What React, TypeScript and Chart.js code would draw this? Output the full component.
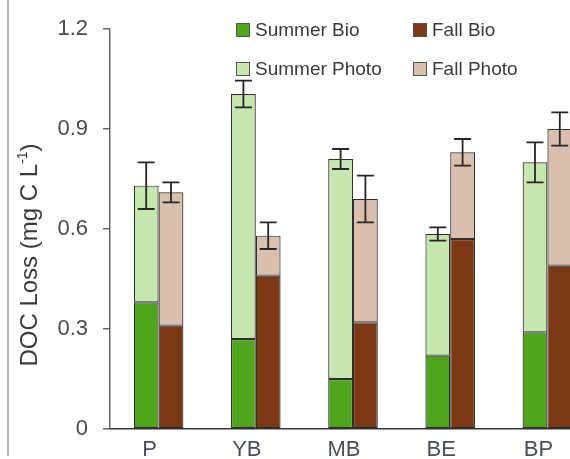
import React, { useEffect, useRef } from "react";
import { Chart, registerables } from "chart.js";

Chart.register(...registerables);

const categories = ["P", "YB", "MB", "BE", "BP"];
const summerBio = [0.38, 0.27, 0.15, 0.22, 0.29];
const summerPhoto = [0.35, 0.735, 0.66, 0.365, 0.51];
const fallBio = [0.31, 0.46, 0.32, 0.57, 0.49];
const fallPhoto = [0.40, 0.12, 0.37, 0.26, 0.41];
const summerErr = [0.07, 0.04, 0.03, 0.02, 0.06];
const fallErr = [0.03, 0.04, 0.07, 0.04, 0.05];
const yTickValues = [0, 0.3, 0.6, 0.9, 1.2];
const yTickLabels = ["0", "0.3", "0.6", "0.9", "1.2"];
const yTitle = "DOC Loss (mg C L";
const yTitleSup = "-1";

const COLORS = {
  summerBio: "#4fa61c",
  summerPhoto: "#c6e7b0",
  fallBio: "#7a3912",
  fallPhoto: "#d9bfae",
  edge: "#2f2f2f",
};

const FONT = "'Liberation Sans', Arial, sans-serif";

// error bars sit on top of each stacked column
const errorBars = {
  id: "errorBars",
  afterDatasetsDraw(chart: any) {
    const y = chart.scales.y;
    const ctx = chart.ctx;
    const groups = [
      { top: 1, bio: summerBio, photo: summerPhoto, err: summerErr },
      { top: 3, bio: fallBio, photo: fallPhoto, err: fallErr },
    ];
    ctx.save();
    ctx.strokeStyle = "#262626";
    ctx.lineWidth = 1.8;
    groups.forEach((g) => {
      const meta = chart.getDatasetMeta(g.top);
      meta.data.forEach((bar: any, i: number) => {
        const total = g.bio[i] + g.photo[i];
        const yHi = y.getPixelForValue(total + g.err[i]);
        const yLo = y.getPixelForValue(total - g.err[i]);
        const x = bar.x;
        const half = 8.5;
        ctx.beginPath();
        ctx.moveTo(x, yHi);
        ctx.lineTo(x, yLo);
        ctx.moveTo(x - half, yHi);
        ctx.lineTo(x + half, yHi);
        ctx.moveTo(x - half, yLo);
        ctx.lineTo(x + half, yLo);
        ctx.stroke();
      });
    });
    ctx.restore();
  },
};

// two-by-two legend inside the plot area
const gridLegend = {
  id: "gridLegend",
  afterDraw(chart: any) {
    const ctx = chart.ctx;
    const items = [
      { label: "Summer Bio", color: COLORS.summerBio, x: 236, y: 23 },
      { label: "Fall Bio", color: COLORS.fallBio, x: 413, y: 23 },
      { label: "Summer Photo", color: COLORS.summerPhoto, x: 236, y: 62 },
      { label: "Fall Photo", color: COLORS.fallPhoto, x: 413, y: 62 },
    ];
    ctx.save();
    ctx.font = `19px ${FONT}`;
    ctx.textBaseline = "middle";
    ctx.textAlign = "left";
    items.forEach((it) => {
      ctx.fillStyle = it.color;
      ctx.fillRect(it.x, it.y, 14, 14);
      ctx.strokeStyle = "#555";
      ctx.lineWidth = 1;
      ctx.strokeRect(it.x + 0.5, it.y + 0.5, 13, 13);
      ctx.fillStyle = "#3a3a3a";
      ctx.fillText(it.label, it.x + 19, it.y + 8);
    });
    ctx.restore();
  },
};

// rotated y-axis title with a superscript exponent
const yAxisTitle = {
  id: "yAxisTitle",
  afterDraw(chart: any) {
    const ctx = chart.ctx;
    const main = `24px ${FONT}`;
    const sup = `14px ${FONT}`;
    ctx.save();
    ctx.font = main;
    const w1 = ctx.measureText(yTitle).width;
    const w3 = ctx.measureText(")").width;
    ctx.font = sup;
    const w2 = ctx.measureText(yTitleSup).width;
    const total = w1 + w2 + w3;
    ctx.translate(30, 255);
    ctx.rotate(-Math.PI / 2);
    ctx.fillStyle = "#3a3a3a";
    ctx.textBaseline = "middle";
    ctx.textAlign = "left";
    let x = -total / 2;
    ctx.font = main;
    ctx.fillText(yTitle, x, 0);
    x += w1;
    ctx.font = sup;
    ctx.fillText(yTitleSup, x, -7);
    x += w2;
    ctx.font = main;
    ctx.fillText(")", x, 0);
    ctx.restore();
  },
};

export default function App() {
  const ref = useRef<HTMLCanvasElement>(null);

  useEffect(() => {
    if (!ref.current) return;
    const mk = (label: string, data: number[], color: string, stack: string) => ({
      label,
      data,
      stack,
      backgroundColor: color,
      borderColor: COLORS.edge,
      borderWidth: 1.2,
      borderSkipped: false,
      categoryPercentage: 0.51,
      barPercentage: 1,
    });
    const chart = new Chart(ref.current, {
      type: "bar",
      data: {
        labels: categories,
        datasets: [
          mk("Summer Bio", summerBio, COLORS.summerBio, "summer"),
          mk("Summer Photo", summerPhoto, COLORS.summerPhoto, "summer"),
          mk("Fall Bio", fallBio, COLORS.fallBio, "fall"),
          mk("Fall Photo", fallPhoto, COLORS.fallPhoto, "fall"),
        ] as any,
      },
      options: {
        responsive: false,
        animation: false,
        layout: { padding: { top: 29, right: 0, bottom: 0, left: 0 } },
        plugins: { legend: { display: false }, tooltip: { enabled: false } },
        scales: {
          x: {
            stacked: true,
            grid: { display: false, drawTicks: false },
            border: { display: true, color: "#333", width: 1.5 },
            ticks: {
              color: "#4a4e5c",
              font: { family: FONT, size: 22 },
              padding: 8,
              labelOffset: -9,
            },
            afterFit: (s: any) => {
              s.height = 30;
            },
          },
          y: {
            stacked: true,
            min: 0,
            max: 1.2,
            afterBuildTicks: (s: any) => {
              s.ticks = yTickValues.map((v) => ({ value: v }));
            },
            ticks: {
              color: "#4a4a4a",
              font: { family: FONT, size: 22 },
              padding: 15,
              callback: (_v: any, i: number) => yTickLabels[i],
            },
            grid: { drawOnChartArea: false, drawTicks: true, tickLength: 7, color: "#666", lineWidth: 1.5 },
            border: { display: true, color: "#666", width: 1.5 },
            afterFit: (s: any) => {
              s.width = 110;
            },
          },
        },
      },
      plugins: [errorBars, gridLegend, yAxisTitle],
    });
    return () => chart.destroy();
  }, []);

  return (
    <div style={{ position: "fixed", left: 0, top: 0, width: 570, height: 459, overflow: "hidden", background: "#fff" }}>
      <div style={{ position: "absolute", left: 7, top: 0, width: 2, height: 456, background: "#b4b4b4" }} />
      <canvas ref={ref} width={596} height={459} style={{ position: "absolute", left: 0, top: 0 }} />
    </div>
  );
}
